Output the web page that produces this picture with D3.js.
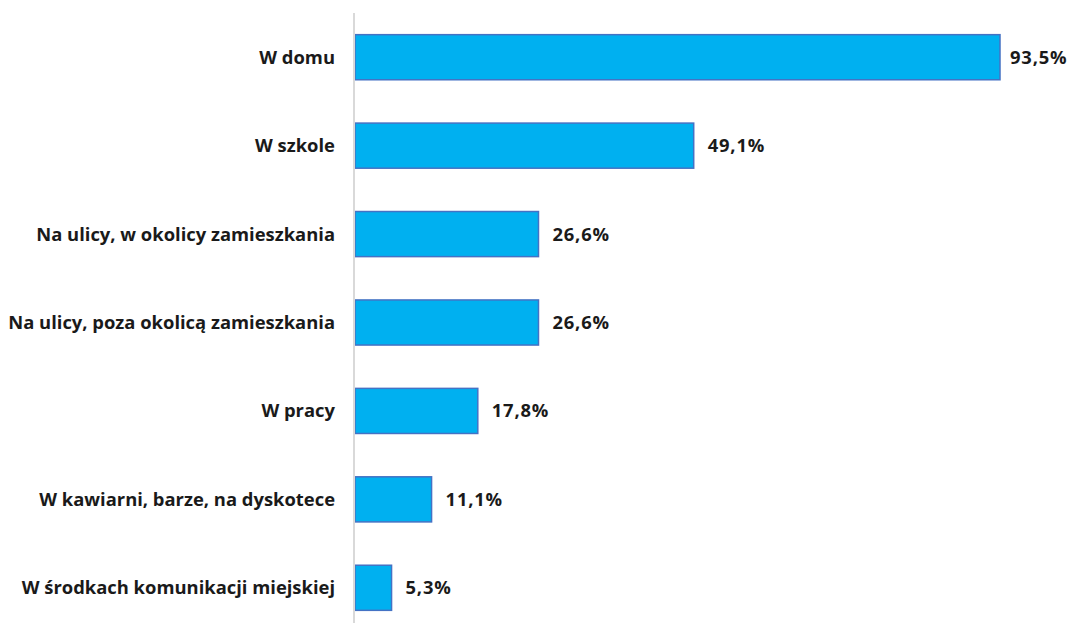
<!DOCTYPE html>
<html>
<head>
<meta charset="utf-8">
<script src="https://cdn.jsdelivr.net/npm/d3@7"></script>
<style>
body{margin:0;background:#fff;}
.cat,.val{font-family:"Open Sans",sans-serif;font-weight:bold;font-size:18.4px;fill:#1a1a1a;}
.val{letter-spacing:0.8px;}
</style>
</head>
<body>
<div id="chart"></div>
<script>
var categories = ['W domu','W szkole','Na ulicy, w okolicy zamieszkania','Na ulicy, poza okolicą zamieszkania','W pracy','W kawiarni, barze, na dyskotece','W środkach komunikacji miejskiej'];
var values = [93.5,49.1,26.6,26.6,17.8,11.1,5.3];
var valueLabels = ['93,5%','49,1%','26,6%','26,6%','17,8%','11,1%','5,3%'];

var W = 1070, H = 623;
var x0 = 355;

var svg = d3.select('#chart').append('svg')
	.attr('width',W).attr('height',H);

var x = d3.scaleLinear().domain([0,93.5]).range([x0,1000]);
var y = d3.scaleBand().domain(categories).range([13,632]).paddingInner(0.49).paddingOuter(0.245);

var data = categories.map(function(c,i){return {cat:c,v:values[i],lab:valueLabels[i]};});

// bars
svg.selectAll('.bar')
	.data(data).enter()
	.append('rect')
		.attr('class','bar')
		.attr('x',x(0))
		.attr('y',function(d){return y(d.cat);})
		.attr('width',function(d){return x(d.v)-x(0);})
		.attr('height',y.bandwidth())
		.attr('fill','#00B0F0')
		.attr('stroke','#4472C4')
		.attr('stroke-width',1.5);

// axis line
svg.append('line')
	.attr('x1',x0-1).attr('x2',x0-1)
	.attr('y1',13).attr('y2',H)
	.attr('stroke','#d9d9d9').attr('stroke-width',2);

// category labels
svg.selectAll('.cat')
	.data(data).enter()
	.append('text')
		.attr('class','cat')
		.attr('x',335)
		.attr('y',function(d){return y(d.cat)+y.bandwidth()/2;})
		.attr('dy','0.35em')
		.attr('text-anchor','end')
		.text(function(d){return d.cat;});

// value labels, pushed back in if they would run off the right edge
svg.selectAll('.val')
	.data(data).enter()
	.append('text')
		.attr('class','val')
		.attr('x',function(d){return Math.min(x(d.v)+14,W-60);})
		.attr('y',function(d){return y(d.cat)+y.bandwidth()/2;})
		.attr('dy','0.35em')
		.text(function(d){return d.lab;});
</script>
</body>
</html>
